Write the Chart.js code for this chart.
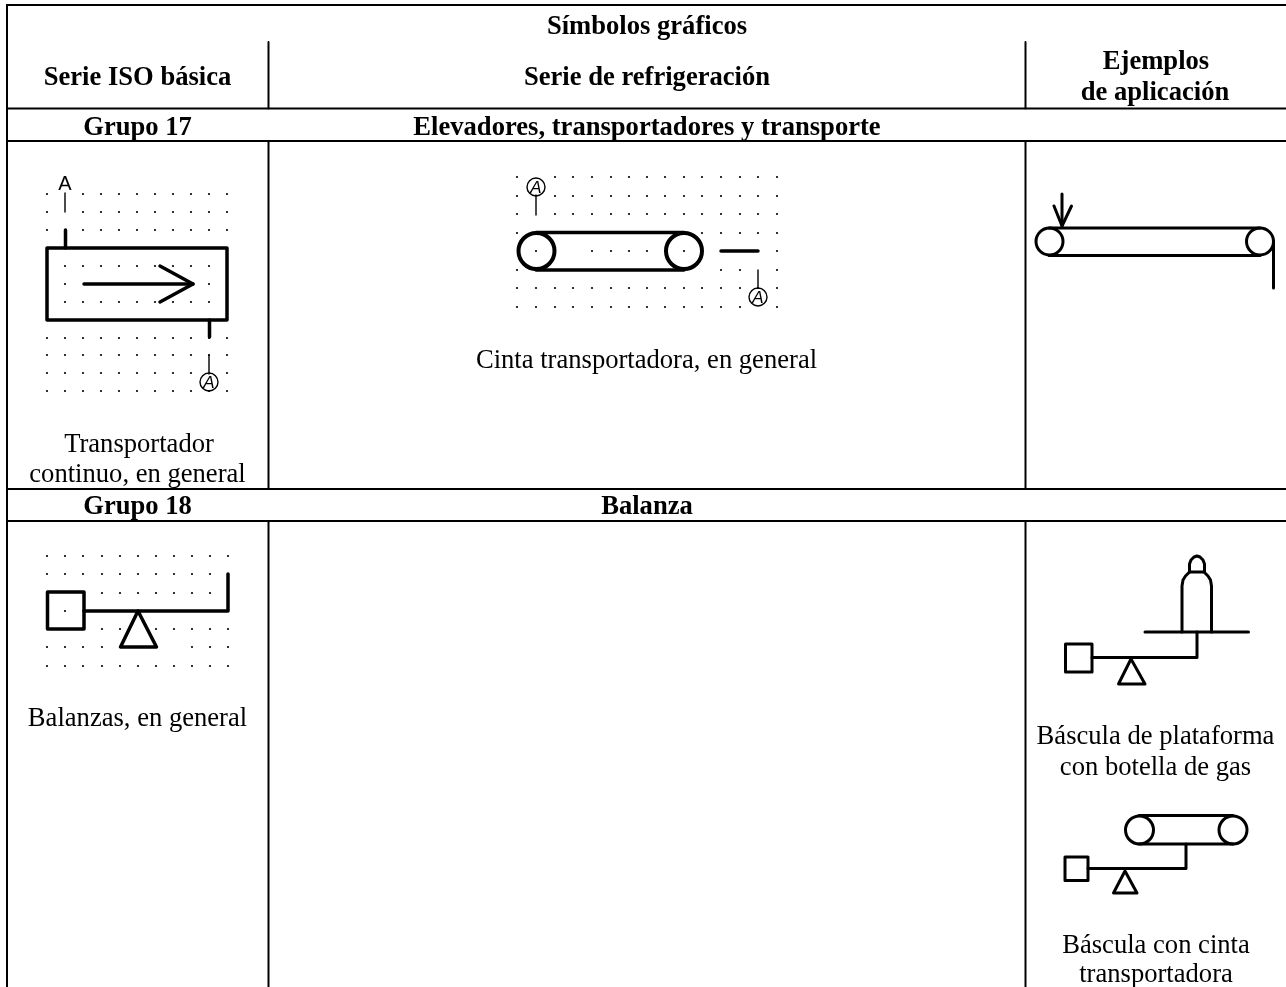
<!DOCTYPE html>
<html lang="es">
<head>
<meta charset="utf-8">
<title>Símbolos gráficos</title>
<script src="https://cdn.jsdelivr.net/npm/chart.js@4/dist/chart.umd.min.js"></script>
<style>
    html, body { margin: 0; padding: 0; background: #fff; overflow: hidden; }
    canvas { display: block; }
</style>
</head>
<body>
<canvas id="symbolChart" width="1286" height="987"></canvas>
<script>
// ==========================================
// Table rules (values are in picture units, x right, y down)
// ==========================================
const tableRules = [
    [[6, 5], [1286, 5]],
    [[6, 108.5], [1286, 108.5]],
    [[6, 141], [1286, 141]],
    [[6, 489], [1286, 489]],
    [[6, 521], [1286, 521]],
    [[7, 5], [7, 987]],
    [[268.5, 42], [268.5, 108.5]],
    [[268.5, 141], [268.5, 489]],
    [[268.5, 521], [268.5, 987]],
    [[1025.5, 42], [1025.5, 108.5]],
    [[1025.5, 141], [1025.5, 489]],
    [[1025.5, 521], [1025.5, 987]]
];

// ==========================================
// Dot grids: columns, rows and which dots show
// ==========================================
const isoDotCols = [47, 65, 83, 101, 119, 137, 155, 173, 191, 209, 227];
const isoDotRows = [194, 212, 230, 266, 284, 302, 338, 355, 373, 391];
const isoDotMask = [
    'x.xxxxxxxxx',
    'x.xxxxxxxxx',
    'x.xxxxxxxxx',
    '.xxxxxxxxx.',
    '.x.......x.',
    '.xxxxxxxxx.',
    'xxxxxxxxxxx',
    'xxxxxxxxxxx',
    'xxxxxxxxx.x',
    'xxxxxxxxxxx'
];

const beltDotCols = [517, 536, 555, 573, 592, 611, 629, 647, 665, 684, 702, 721, 740, 758, 777];
const beltDotRows = [177, 196, 214, 233, 251, 270, 288, 307];
const beltDotMask = [
    'x.xxxxxxxxxxxxx',
    'x.xxxxxxxxxxxxx',
    'x.xxxxxxxxxxxxx',
    'x.........xxxxx',
    '.x..xxxxxx....x',
    'x..........xx.x',
    'xxxxxxxxxxxxxxx',
    'xxxxxxxxxxxxx.x'
];

const scaleDotCols = [47, 65, 83, 102, 120, 138, 156, 174, 192, 210, 228];
const scaleDotRows = [556, 574, 593, 611, 629, 647, 666];
const scaleDotMask = [
    'xxxxxxxxxxx',
    'xxxxxxxxxxx',
    '...xxxxxxx.',
    '.x.........',
    '...xx.xxxxx',
    'xxxx....xxx',
    'xxxxxxxxxxx'
];

// ==========================================
// Heavy strokes
// ==========================================
const heavyStrokes = [
    // transportador continuo
    [[47, 248], [227, 248], [227, 320], [47, 320], [47, 248]],
    [[65.5, 230], [65.5, 248]],
    [[209.5, 320], [209.5, 337]],
    [[84, 284], [193, 284]],
    [[160, 266], [193, 284], [160, 302]],
    // cinta transportadora
    [[536, 232.5], [684, 232.5]],
    [[536, 270], [684, 270]],
    [[721, 251], [758, 251]],
    // balanza
    [[47.5, 592], [84, 592], [84, 629], [47.5, 629], [47.5, 592]],
    [[84, 611], [228, 611], [228, 574]],
    [[138, 611], [120.5, 647], [156.5, 647], [138, 611]]
];

const mediumStrokes = [
    // cinta con tolva
    [[1049, 228], [1260, 228]],
    [[1049, 255.5], [1260, 255.5]],
    [[1062, 194], [1062, 226]],
    [[1054, 206], [1062, 226], [1071.5, 206]],
    [[1273.5, 241.5], [1273.5, 288]],
    // bascula de plataforma
    [[1065.5, 644], [1092, 644], [1092, 672], [1065.5, 672], [1065.5, 644]],
    [[1092, 657.5], [1197, 657.5], [1197, 632]],
    [[1145, 632], [1248.5, 632]],
    [[1131, 659], [1118.5, 684], [1145, 684], [1131, 659]],
    [[1182, 632], [1182, 586], [1183, 580], [1185.5, 576], [1189.5, 572], [1204, 572], [1208, 576], [1210.5, 580], [1211.5, 586], [1211.5, 632]],
    [[1189.5, 572], [1189.5, 564], [1191, 560], [1194, 557], [1197, 556], [1200, 557], [1203, 560], [1204.5, 564], [1204.5, 572]],
    // bascula con cinta
    [[1139, 815.5], [1233, 815.5]],
    [[1139, 844], [1233, 844]],
    [[1186, 844], [1186, 868.5], [1088, 868.5]],
    [[1065, 857], [1088, 857], [1088, 880.5], [1065, 880.5], [1065, 857]],
    [[1125, 871], [1113.5, 893], [1137, 893], [1125, 871]]
];

const thinStrokes = [
    [[65, 193], [65, 212]],
    [[209, 355], [209, 374]],
    [[536, 195], [536, 215]],
    [[758, 270], [758, 288]]
];

// Pulleys and tag circles: x, y, radius
const heavyPulleys = [[536.5, 251, 18], [684, 251, 18]];
const mediumPulleys = [[1049.5, 241.5, 13.5], [1260, 241.5, 13.5], [1139.5, 830, 14], [1233, 830, 14]];
const tagCircles = [[209, 382, 9], [536, 187, 9], [758, 297, 9]];

// ==========================================
// Text: x is the centre, y the baseline
// ==========================================
const headFont = 'bold 26.6px "Liberation Serif"';
const bodyFont = '26.6px "Liberation Serif"';
const tagFont = '20px "Liberation Sans"';
const tagItalicFont = 'italic 17px "Liberation Sans"';

const tableLabels = [
    ['Símbolos gráficos', 647, 33.5, headFont],
    ['Serie ISO básica', 137.5, 85, headFont],
    ['Serie de refrigeración', 647, 85, headFont],
    ['Ejemplos', 1156, 68.5, headFont],
    ['de aplicación', 1155, 99.5, headFont],
    ['Grupo 17', 137.5, 135, headFont],
    ['Elevadores, transportadores y transporte', 647, 135, headFont],
    ['Grupo 18', 137.5, 513.5, headFont],
    ['Balanza', 647, 513.5, headFont],
    ['Transportador', 139, 452, bodyFont],
    ['continuo, en general', 137.5, 482, bodyFont],
    ['Cinta transportadora, en general', 646.5, 368, bodyFont],
    ['Balanzas, en general', 137.5, 725.5, bodyFont],
    ['Báscula de plataforma', 1155.5, 744, bodyFont],
    ['con botella de gas', 1155.5, 774.5, bodyFont],
    ['Báscula con cinta', 1156, 952.5, bodyFont],
    ['transportadora', 1156, 982, bodyFont],
    ['A', 65, 190, tagFont],
    ['A', 209, 388, tagItalicFont],
    ['A', 536, 193, tagItalicFont],
    ['A', 758, 303, tagItalicFont]
];

// ==========================================
// Datasets
// ==========================================
function strokeDataset(points, width) {
    return {
        data: points.map(p => ({ x: p[0], y: p[1] })),
        showLine: true,
        borderColor: '#000',
        borderWidth: width,
        borderCapStyle: 'round',
        borderJoinStyle: 'round',
        pointRadius: 0,
        tension: 0
    };
}

function dotDataset(cols, rows, mask) {
    const data = [];
    rows.forEach((y, r) => {
        cols.forEach((x, c) => {
            if (mask[r][c] === 'x') data.push({ x: x, y: y });
        });
    });
    return {
        data: data,
        showLine: false,
        pointStyle: 'circle',
        pointRadius: 1.1,
        pointBorderWidth: 0,
        pointBackgroundColor: '#000'
    };
}

function circleDataset(circles, width) {
    return {
        data: circles.map(c => ({ x: c[0], y: c[1] })),
        showLine: false,
        pointStyle: 'circle',
        pointRadius: circles.map(c => c[2]),
        pointBorderWidth: width,
        pointBorderColor: '#000',
        pointBackgroundColor: 'rgba(0,0,0,0)'
    };
}

const datasets = [
    dotDataset(isoDotCols, isoDotRows, isoDotMask),
    dotDataset(beltDotCols, beltDotRows, beltDotMask),
    dotDataset(scaleDotCols, scaleDotRows, scaleDotMask),
    ...tableRules.map(l => Object.assign(strokeDataset(l, 2), { borderCapStyle: 'butt' })),
    ...heavyStrokes.map(l => strokeDataset(l, 3.5)),
    ...mediumStrokes.map(l => strokeDataset(l, 3)),
    ...thinStrokes.map(l => strokeDataset(l, 1.4)),
    circleDataset(heavyPulleys, 4),
    circleDataset(mediumPulleys, 3),
    circleDataset(tagCircles, 1.4)
];

// Labels go through the scales as well
const tableTextPlugin = {
    id: 'tableText',
    afterDatasetsDraw(chart) {
        const ctx = chart.ctx;
        ctx.save();
        ctx.fillStyle = '#000';
        ctx.textAlign = 'center';
        ctx.textBaseline = 'alphabetic';
        tableLabels.forEach(l => {
            ctx.font = l[3];
            ctx.fillText(l[0], chart.scales.x.getPixelForValue(l[1]), chart.scales.y.getPixelForValue(l[2]));
        });
        ctx.restore();
    }
};

new Chart(document.getElementById('symbolChart'), {
    type: 'scatter',
    data: { datasets: datasets },
    options: {
        responsive: false,
        animation: false,
        events: [],
        layout: { padding: 0, autoPadding: false },
        plugins: { legend: { display: false }, tooltip: { enabled: false } },
        scales: {
            x: { type: 'linear', min: 0, max: 1286, display: false },
            y: { type: 'linear', min: 0, max: 987, reverse: true, display: false }
        }
    },
    plugins: [tableTextPlugin]
});
</script>
</body>
</html>
